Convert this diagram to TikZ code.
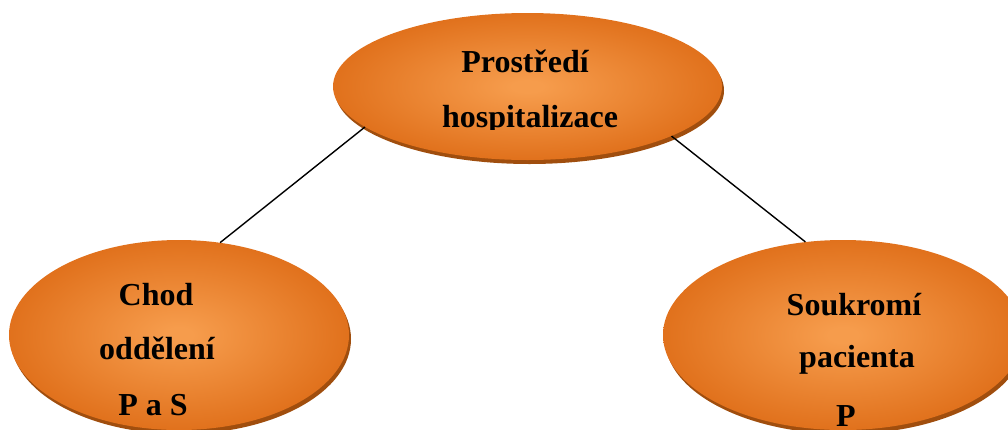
\documentclass[tikz,border=0pt]{standalone}
\usepackage{fontspec}
\setmainfont{Liberation Serif}
\usetikzlibrary{shapes.geometric,shadows}
\definecolor{ocenter}{RGB}{246,156,76}
\definecolor{oedge}{RGB}{219,102,16}
\definecolor{oshadow}{RGB}{160,78,14}
\pgfdeclareradialshading{orangeglow}{\pgfpoint{0bp}{0bp}}{color(0bp)=(ocenter); color(2bp)=(ocenter); color(31bp)=(oedge); color(50bp)=(oedge)}
\tikzset{
  oval/.style={ellipse, inner sep=0pt, draw=none, shading=orangeglow,
    general shadow={fill=oshadow, shadow xshift=2pt, shadow yshift=-4pt}},
  lbl/.style={anchor=base, inner sep=0pt, font=\fontsize{32}{32}\selectfont\bfseries},
  link/.style={draw=black, line width=1.4pt}
}
\begin{document}
\begin{tikzpicture}[x=1pt,y=-1pt]
\useasboundingbox (0,0) rectangle (1008,429);
\clip (0,0) rectangle (1008,429);
% ellipses (nodes)
\node[oval, minimum width=389pt, minimum height=147pt] (top) at (527.5,86.5) {};
\node[oval, minimum width=340pt, minimum height=190pt] (left) at (179,335) {};
\node[oval, minimum width=360pt, minimum height=190pt] (right) at (843,335) {};
% connectors
\draw[link] (top.194) -- (left.66);
\draw[link] (top.-19.7) -- (right.112.4);
% texts
\begin{scope}
\clip (0,0) rectangle (1008,129);
\node[lbl] (topA) at (525,72) {Prostředí};
\node[lbl] (topB) at (530,127) {hospitalizace};
\end{scope}
\node[lbl] (leftA) at (156,305) {Chod};
\node[lbl] (leftB) at (157,359) {oddělení};
\node[lbl] (leftC) at (153,415) {P a S};
\node[lbl] (rightA) at (854,315) {Soukromí};
\node[lbl] (rightB) at (857,367) {pacienta};
\node[lbl] (rightC) at (846,426) {P};
\end{tikzpicture}
\end{document}
